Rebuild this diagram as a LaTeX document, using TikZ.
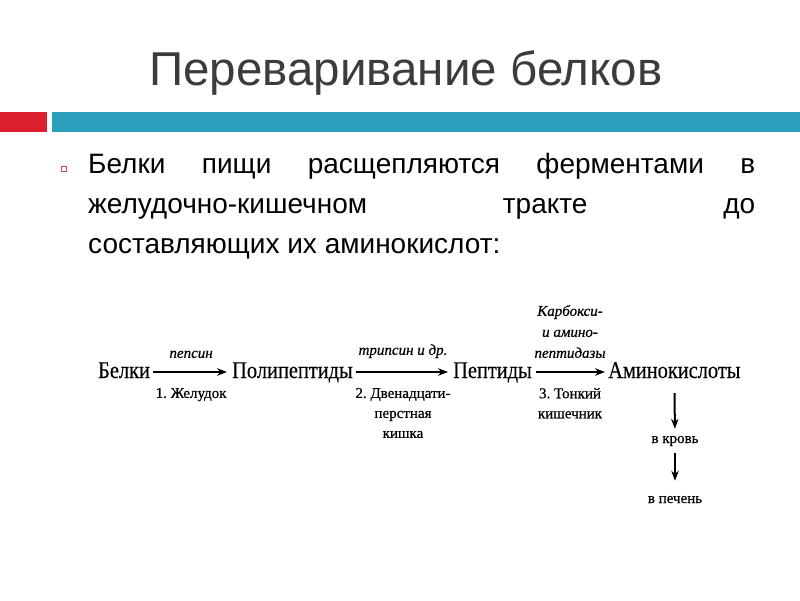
\documentclass[tikz,border=0pt]{standalone}
\usepackage{fontspec}
\setmainfont{Liberation Sans}
\newfontfamily\schemefont[FakeStretch=0.85,FakeBold=0.25]{Liberation Serif}
\newfontfamily\notefont[FakeBold=0.6]{Liberation Serif}
\usetikzlibrary{arrows.meta}

\definecolor{barred}{HTML}{DC1F2E}
\definecolor{barteal}{HTML}{2BA0BD}
\definecolor{bulletred}{HTML}{D24A5A}
\definecolor{titlegray}{HTML}{3C3C3C}

\begin{document}
\frenchspacing
\begin{tikzpicture}[x=1pt,y=-1pt,
    term/.style={font=\schemefont\fontsize{24}{26}\selectfont, inner sep=2pt,
      text height=16pt, text depth=4pt},
    note/.style={font=\notefont\fontsize{15}{20}\selectfont, inner sep=1pt, align=center},
    enz/.style={font=\notefont\itshape\fontsize{15}{21}\selectfont, inner sep=1pt, align=center},
    reaction/.style={-{Stealth[length=10pt,width=7.5pt]}, line width=2pt}]
    \useasboundingbox (0,0) rectangle (800,600);

    % Title and bars
    \node[anchor=base, text=titlegray, font=\fontsize{47.5}{52}\selectfont] (title) at (406,85) {Переваривание белков};
    \fill[barred] (0,112) rectangle (47,132);
    \fill[barteal] (52,112) rectangle (800,132);

    % Bullet text
    \draw[bulletred, line width=0.6pt] (61,166) rectangle (66,171);
    \node[anchor=base west, inner sep=0pt, font=\fontsize{28}{40}\selectfont] (line1) at (88,173)
        {\makebox[667pt][s]{Белки пищи расщепляются ферментами в}};
    \node[anchor=base west, inner sep=0pt, font=\fontsize{28}{40}\selectfont] (line2) at (88,213)
        {\makebox[667pt][s]{желудочно-кишечном тракте до}};
    \node[anchor=base west, inner sep=0pt, font=\fontsize{28}{40}\selectfont] (line3) at (88,253)
        {составляющих их аминокислот:};

    % Scheme
    \node[term, anchor=base west] (belki) at (96,378) {Белки};
    \node[term, anchor=base west] (polip) at (230,378) {Полипептиды};
    \node[term, anchor=base west] (pept) at (451,378) {Пептиды};
    \node[term, anchor=base west] (amino) at (606,378) {Аминокислоты};
    \node[note, anchor=base] (krov) at (675,443) {в кровь};
    \node[note, anchor=base] (pechen) at (675,503) {в печень};

    \draw[reaction, shorten <=1pt, shorten >=3pt] (belki) -- (polip)
        node[enz, midway, above=12pt] (pepsin) {пепсин}
        node[note, midway, below=14pt] (stomach) {1. Желудок};
    \draw[reaction, shorten <=1pt, shorten >=3pt] (polip) -- (pept)
        node[enz, midway, above=12pt] (trypsin) {трипсин и др.}
        node[note, midway, below=14pt, anchor=north] (duoden) {2. Двенадцати-\\перстная\\кишка};
    \draw[reaction, shorten <=2pt, shorten >=1pt] (pept) -- (amino)
        node[enz, midway, above=12pt] (peptidase) {Карбокси-\\и амино-\\пептидазы}
        node[note, midway, below=14pt, anchor=north] (intestine) {3. Тонкий\\кишечник};
    \draw[reaction, shorten <=9pt, shorten >=6pt] (amino) -- (krov);
    \draw[reaction, shorten <=6pt, shorten >=14pt] (krov) -- (pechen);
\end{tikzpicture}
\end{document}
